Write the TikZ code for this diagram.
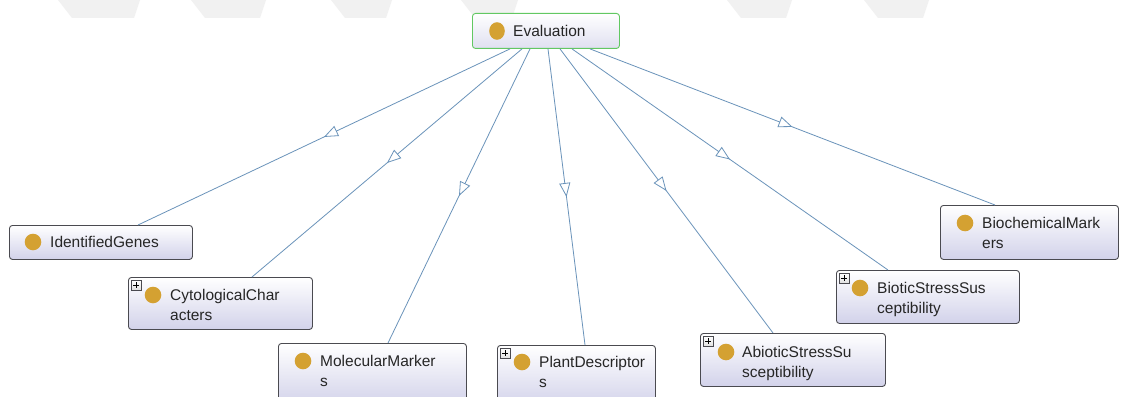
\documentclass[tikz,border=0pt]{standalone}
\usepackage{fontspec}
\setmainfont{Liberation Sans}
\usetikzlibrary{arrows.meta,decorations.markings,calc}

\definecolor{edgeblue}{HTML}{6A93BA}
\definecolor{boxline}{HTML}{4A4A50}
\definecolor{boxbottom}{HTML}{D2D2EA}
\definecolor{dotgold}{HTML}{D4A132}
\definecolor{rootline}{HTML}{62C862}
\definecolor{markgray}{HTML}{F1F1F1}

\tikzset{
  x=1pt, y=-1pt,
  classbox/.style={draw=boxline, line width=0.9pt, rounded corners=3pt,
    top color=white, bottom color=boxbottom, anchor=north west, inner sep=0pt},
  rootbox/.style={classbox, draw=rootline, bottom color=boxbottom!70},
  label/.style={font=\fontsize{15.5}{20}\selectfont, inner sep=0pt, anchor=base west, align=left, text=black!85},
  classdot/.style={fill=dotgold},
  expander/.style={draw=boxline, line width=0.6pt, top color=white, bottom color=black!12,
    minimum size=10pt, inner sep=0pt, anchor=north west},
  isa/.style={draw=edgeblue, line width=0.8pt,
    postaction={decorate, decoration={markings, mark=at position 0.5 with
      {\arrow{Triangle[open, length=14pt, width=11pt, fill=white, line width=0.8pt]}}}}},
}

\newcommand{\plusmark}[2]{%
  \node[expander] (#1) at (#2) {};
  \draw[line width=0.8pt] ($(#1.center)+(-3,0)$) -- ($(#1.center)+(3,0)$)
    ($(#1.center)+(0,-3)$) -- ($(#1.center)+(0,3)$);
}

\begin{document}
\begin{tikzpicture}
\useasboundingbox (0,0) rectangle (1123,396);
\fill[white] (0,0) rectangle (1123,396);

% faint banner marks along the upper edge
\foreach \a/\b in {58/140, 191/266, 331/392, 461/518, 727/792, 864/929}{
  \fill[markgray] (\a,0) -- (\b,0) -- (\b-6,18) -- (\a+14,18) -- cycle;
}

% root class
\node[rootbox, minimum width=147pt, minimum height=35pt] (ev) at (472,13) {};
\fill[classdot] (497,31) ellipse (7.8 and 8.8);
\node[label] (evt) at (513,36.5) {Evaluation};

% subclasses (two-line labels are placed by the baseline of their last line)
\node[classbox, minimum width=183pt, minimum height=34pt] (ig) at (9,225) {};
\fill[classdot] (33,242) circle (8.3);
\node[label] (igt) at (50,247.5) {IdentifiedGenes};

\node[classbox, minimum width=184pt, minimum height=52pt] (cy) at (128,277) {};
\plusmark{cyp}{131,280}
\fill[classdot] (153,295) circle (8.3);
\node[label] (cyt) at (170,320.5) {CytologicalChar\\acters};

\node[classbox, minimum width=188pt, minimum height=62pt] (mm) at (278,343) {};
\fill[classdot] (303,361) circle (8.3);
\node[label] (mmt) at (320,386.5) {MolecularMarker\\s};

\node[classbox, minimum width=158pt, minimum height=62pt] (pd) at (497,345) {};
\plusmark{pdp}{500,348}
\fill[classdot] (522,362) circle (8.3);
\node[label] (pdt) at (539,387.5) {PlantDescriptor\\s};

\node[classbox, minimum width=185pt, minimum height=53pt] (ab) at (700,333) {};
\plusmark{abp}{703,336}
\fill[classdot] (726,352) circle (8.3);
\node[label] (abt) at (742,377.5) {AbioticStressSu\\sceptibility};

\node[classbox, minimum width=183pt, minimum height=53pt] (bi) at (836,270) {};
\plusmark{bip}{839,273}
\fill[classdot] (860,288) circle (8.3);
\node[label] (bit) at (877,313.5) {BioticStressSus\\ceptibility};

\node[classbox, minimum width=178pt, minimum height=54pt] (bc) at (940,205) {};
\fill[classdot] (965,223) circle (8.3);
\node[label] (bct) at (982,248.5) {BiochemicalMark\\ers};

% is-a links from the root to each subclass
\draw[isa] ($(ev.south west)+(38,0)$)  -- ($(ig.north west)+(129,0)$);
\draw[isa] ($(ev.south west)+(50,0)$)  -- ($(cy.north west)+(124,0)$);
\draw[isa] ($(ev.south west)+(58,0)$)  -- ($(mm.north west)+(110,0)$);
\draw[isa] ($(ev.south west)+(76,0)$)  -- ($(pd.north west)+(88,0)$);
\draw[isa] ($(ev.south west)+(88,0)$)  -- ($(ab.north west)+(73,0)$);
\draw[isa] ($(ev.south west)+(100,0)$) -- ($(bi.north west)+(52,0)$);
\draw[isa] ($(ev.south west)+(118,0)$) -- ($(bc.north west)+(55,0)$);
\end{tikzpicture}
\end{document}
